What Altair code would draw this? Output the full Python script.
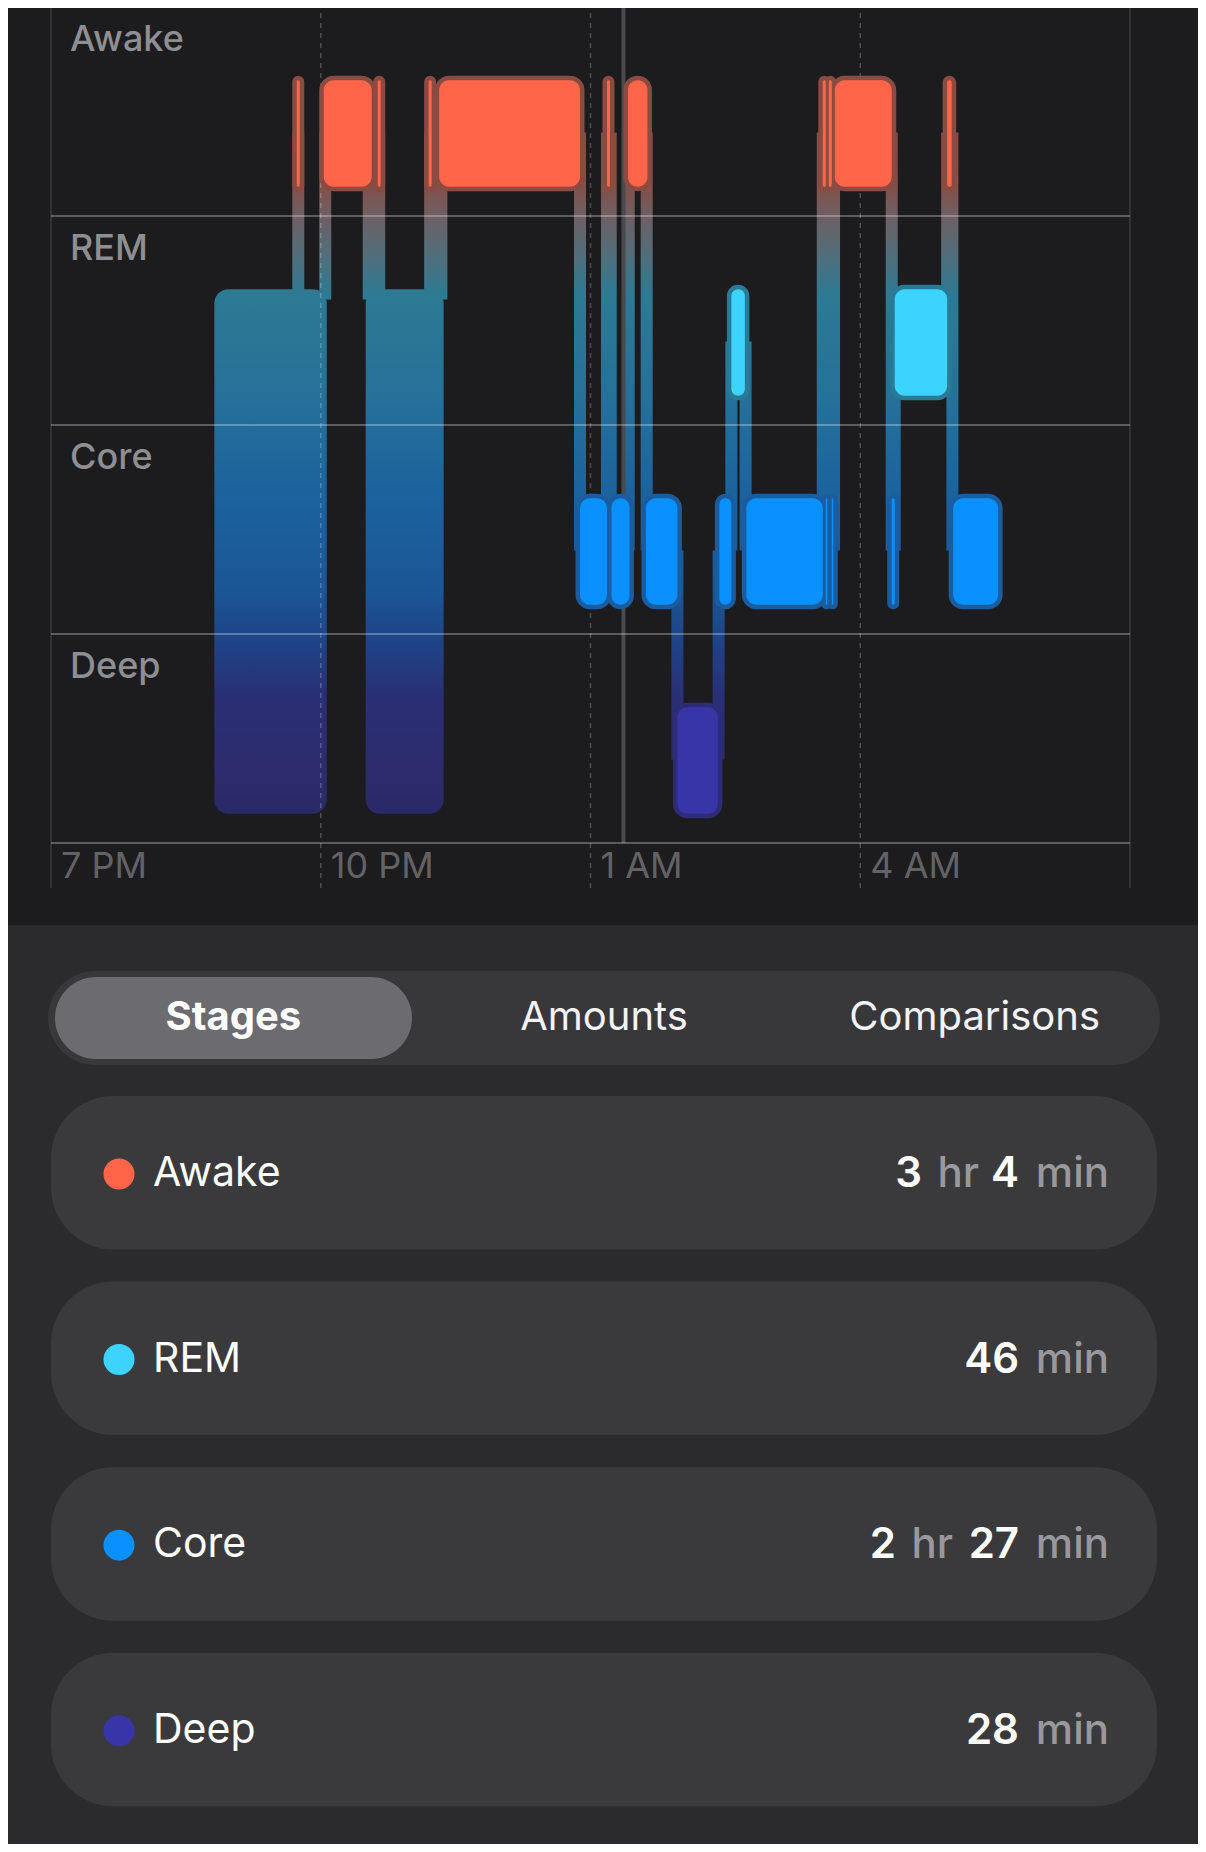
import altair as alt
import pandas as pd

# ---------------- data ----------------
seg_start = ["20:49", "21:44", "22:02", "22:30", "22:38", "23:12", "23:19", "00:53", "01:11",
             "01:14", "01:25", "01:37", "01:58", "02:26", "02:34", "02:44", "03:35", "03:37",
             "03:39", "03:41", "03:43", "04:21", "04:23", "04:58", "05:02"]
seg_end = ["22:04", "21:46", "22:34", "23:22", "22:40", "23:14", "00:53", "01:11", "01:13",
           "01:26", "01:38", "01:58", "02:25", "02:34", "02:43", "03:35", "03:37", "03:38",
           "03:41", "03:42", "04:21", "04:23", "04:58", "05:01", "05:32"]
seg_stage = ["Asleep", "Awake", "Awake", "Asleep", "Awake", "Awake", "Awake", "Core", "Awake",
             "Core", "Awake", "Core", "Deep", "Core", "REM", "Core", "Awake", "Core",
             "Awake", "Core", "Awake", "Core", "REM", "Awake", "Core"]

stage_names = ["Awake", "REM", "Core", "Deep"]
stage_colors = ["#ff6548", "#3dd3ff", "#0a91ff", "#3835a8"]
halo_colors = ["#8a4b42", "#2a7a95", "#1b5c9e", "#2f2c76"]

tick_minutes = [0, 180, 360, 540]
tick_labels = ["7 PM", "10 PM", "1 AM", "4 AM"]
now_time = "01:22"

summary_stage = ["Awake", "REM", "Core", "Deep"]
summary_hours = [3, 0, 2, 0]
summary_minutes = [4, 46, 27, 28]
tabs = ["Stages", "Amounts", "Comparisons"]

# ---------------- styling / layout ----------------
W, H = 1190, 1836
X_RANGE = [43, 1122]
Y_RANGE = [835, -1]
FONT = "Inter"
LEVEL = {"Awake": 3, "REM": 2, "Core": 1, "Deep": 0}
ANCHOR = {"Awake": 3.4, "REM": 2.4, "Core": 1.4, "Deep": 0.4, "Asleep": 2.6}
GRAD = [(3.6, "#8c4a40"), (3.15, "#834f47"), (3.0, "#6e5f63"), (2.8, "#4f6f7c"),
        (2.62, "#2c7a93"), (2.1, "#24709a"), (1.65, "#1b629e"), (1.2, "#1b5596"),
        (0.95, "#1f4287"), (0.7, "#2a2f75"), (0.4, "#2d2b6e"), (0.1, "#2a2966")]


def to_min(s):
    h, m = map(int, s.split(":"))
    t = h * 60 + m - 19 * 60
    return t + 1440 if t < 0 else t


def hex2rgb(h):
    return [int(h[i:i + 2], 16) for i in (1, 3, 5)]


def rgb2hex(c):
    return "#%02x%02x%02x" % tuple(int(round(v)) for v in c)


def grad_color(y):
    if y >= GRAD[0][0]:
        return GRAD[0][1]
    for (y0, c0), (y1, c1) in zip(GRAD, GRAD[1:]):
        if y0 >= y >= y1:
            f = (y0 - y) / (y0 - y1)
            a, b = hex2rgb(c0), hex2rgb(c1)
            return rgb2hex([a[i] + (b[i] - a[i]) * f for i in range(3)])
    return GRAD[-1][1]


def gradient(hi, lo):
    stops = [alt.GradientStop(color=grad_color(hi), offset=0)]
    for y, c in GRAD:
        if lo < y < hi:
            stops.append(alt.GradientStop(color=c, offset=(hi - y) / (hi - lo)))
    stops.append(alt.GradientStop(color=grad_color(lo), offset=1))
    return alt.Gradient(gradient="linear", stops=stops, x1=0, x2=0, y1=0, y2=1)


def X(field):
    return alt.X(f"{field}:Q", scale=alt.Scale(domain=[0, 720], range=X_RANGE, nice=False, zero=False), axis=None)


def Y(field):
    return alt.Y(f"{field}:Q", scale=alt.Scale(domain=[0, 4], range=Y_RANGE, nice=False, zero=False), axis=None)


# ---------------- tables ----------------
segs = []
for s, e, st in zip(seg_start, seg_end, seg_stage):
    if st == "Asleep":
        bottom, top = 0.14, 2.65
    else:
        bottom, top = LEVEL[st] + 0.14, LEVEL[st] + 0.65
    segs.append({"start": to_min(s), "end": to_min(e), "stage": st, "bottom": bottom, "top": top})
seg_df = pd.DataFrame(segs)
asleep_df = seg_df[seg_df.stage == "Asleep"]
block_df = seg_df[seg_df.stage != "Asleep"]

pipes = []
prev = segs[0]
for s in segs[1:]:
    if prev["stage"] == "Asleep" and s["start"] >= prev["start"] and s["end"] <= prev["end"]:
        x = (s["start"] + s["end"]) / 2
        a, b = ANCHOR[prev["stage"]], ANCHOR[s["stage"]]
        pipes.append({"x": x, "lo": min(a, b), "hi": max(a, b)})
        continue
    if prev["stage"] != s["stage"]:
        x = (prev["end"] + s["start"]) / 2
        a, b = ANCHOR[prev["stage"]], ANCHOR[s["stage"]]
        pipes.append({"x": x, "lo": min(a, b), "hi": max(a, b)})
    prev = s
pipe_df = pd.DataFrame(pipes)

layers = []

# bottom panel background
layers.append(alt.Chart(pd.DataFrame({"a": [0]})).mark_rect(color="#2b2b2d").encode(
    x=alt.value(0), x2=alt.value(W), y=alt.value(917), y2=alt.value(H)))

# solid frame lines at 7 PM and 7 AM
layers.append(alt.Chart(pd.DataFrame({"t": [0, 720], "y0": [-0.215] * 2, "y1": [4.03] * 2}))
              .mark_rule(color="#3a3a3c", strokeWidth=1.5)
              .encode(x=X("t"), y=Y("y0"), y2="y1:Q"))

# tall "asleep" bars
layers.append(alt.Chart(asleep_df).mark_rect(cornerRadius=14, color=gradient(2.65, 0.14)).encode(
    x=X("start"), x2="end:Q", y=Y("top"), y2="bottom:Q"))

# connecting pipes, one layer per level pair
for (lo, hi), grp in pipe_df.groupby(["lo", "hi"]):
    layers.append(alt.Chart(grp).mark_rect(color=gradient(hi, lo), xOffset=-6, x2Offset=6).encode(
        x=X("x"), x2="x:Q", y=Y("hi"), y2="lo:Q"))

# current time marker
layers.append(alt.Chart(pd.DataFrame({"t": [to_min(now_time)], "y0": [0.0], "y1": [4.03]}))
              .mark_rule(color="#4a4a4e", strokeWidth=4)
              .encode(x=X("t"), y=Y("y0"), y2="y1:Q"))

# dashed hour lines
layers.append(alt.Chart(pd.DataFrame({"t": tick_minutes[1:], "y0": [-0.215] * 3, "y1": [4.03] * 3}))
              .mark_rule(color="#ffffff", opacity=0.22, strokeWidth=1.5, strokeDash=[5, 5])
              .encode(x=X("t"), y=Y("y0"), y2="y1:Q"))

# horizontal stage grid lines
layers.append(alt.Chart(pd.DataFrame({"y": [0, 1, 2, 3], "t0": [0] * 4, "t1": [720] * 4}))
              .mark_rule(color="#ffffff", opacity=0.38, strokeWidth=1.4)
              .encode(y=Y("y"), x=X("t0"), x2="t1:Q"))

# halos
layers.append(alt.Chart(block_df).mark_rect(cornerRadius=10, strokeWidth=9, strokeJoin="round").encode(
    x=X("start"), x2="end:Q", y=Y("top"), y2="bottom:Q",
    fill=alt.Fill("stage:N", scale=alt.Scale(domain=stage_names, range=halo_colors), legend=None),
    stroke=alt.Stroke("stage:N", scale=alt.Scale(domain=stage_names, range=halo_colors), legend=None)))

# stage blocks
layers.append(alt.Chart(block_df).mark_rect(cornerRadius=10).encode(
    x=X("start"), x2="end:Q", y=Y("top"), y2="bottom:Q",
    fill=alt.Fill("stage:N", scale=alt.Scale(domain=stage_names, range=stage_colors), legend=None)))

# stage labels inside bands
lab_df = pd.DataFrame({"stage": stage_names, "y": [LEVEL[s] + 0.842 for s in stage_names], "t": [0] * 4})
layers.append(alt.Chart(lab_df).mark_text(align="left", baseline="middle", dx=19, font=FONT,
                                          fontSize=36, fontWeight=500, color="#8e8e93").encode(
    x=X("t"), y=Y("y"), text="stage:N"))

# time labels
tick_df = pd.DataFrame({"t": tick_minutes, "label": tick_labels, "y": [-0.115] * 4})
layers.append(alt.Chart(tick_df).mark_text(align="left", baseline="middle", dx=10, font=FONT,
                                           fontSize=36, color="#636366").encode(
    x=X("t"), y=Y("y"), text="label:N"))

# ---------------- lower panel ----------------
layers.append(alt.Chart(pd.DataFrame({"a": [0]})).mark_rect(color="#38383b", cornerRadius=47).encode(
    x=alt.value(40), x2=alt.value(1152), y=alt.value(963), y2=alt.value(1057)))
layers.append(alt.Chart(pd.DataFrame({"a": [0]})).mark_rect(color="#6c6c70", cornerRadius=41).encode(
    x=alt.value(47), x2=alt.value(404), y=alt.value(969), y2=alt.value(1051)))

tab_df = pd.DataFrame({"tab": tabs, "sel": [True, False, False]})
tab_x = alt.X("tab:N", scale=alt.Scale(type="point", domain=tabs, range=[40, 1152], padding=0.5), axis=None)
layers.append(alt.Chart(tab_df[tab_df.sel]).mark_text(font=FONT, fontSize=40, fontWeight="bold",
                                                      color="#ffffff", baseline="middle").encode(
    x=tab_x, y=alt.value(1010), text="tab:N"))
layers.append(alt.Chart(tab_df[~tab_df.sel]).mark_text(font=FONT, fontSize=40, color="#f2f2f7",
                                                       baseline="middle").encode(
    x=tab_x, y=alt.value(1010), text="tab:N"))

rows = pd.DataFrame({"stage": summary_stage, "row": list(range(4))})
rows["row_end"] = rows.row + 0.827
rows["mid"] = rows.row + 0.42
row_scale = alt.Scale(domain=[0, 4], range=[1088, 1830.4], nice=False, zero=False)

layers.append(alt.Chart(rows).mark_rect(color="#3a3a3c", cornerRadius=62).encode(
    x=alt.value(43), x2=alt.value(1149),
    y=alt.Y("row:Q", scale=row_scale, axis=None), y2="row_end:Q"))
layers.append(alt.Chart(rows).mark_circle(size=962, opacity=1).encode(
    x=alt.value(111), y=alt.Y("mid:Q", scale=row_scale, axis=None),
    color=alt.Color("stage:N", scale=alt.Scale(domain=stage_names, range=stage_colors), legend=None)))
layers.append(alt.Chart(rows).mark_text(align="left", baseline="middle", font=FONT, fontSize=41,
                                        color="#ffffff").encode(
    x=alt.value(145), y=alt.Y("mid:Q", scale=row_scale, axis=None), text="stage:N"))

# duration texts, built right-to-left
WIDTH = {"min": 76, "hr": 43}
pieces = []
for i, (h, m) in enumerate(zip(summary_hours, summary_minutes)):
    parts = ([(str(h), "num"), ("hr", "unit")] if h > 0 else []) + [(str(m), "num"), ("min", "unit")]
    xr = 1101
    for text, kind in reversed(parts):
        pieces.append({"mid": i + 0.42, "text": text, "kind": kind, "xr": xr})
        xr -= (WIDTH[text] if kind == "unit" else 26 * len(text)) + 14
piece_df = pd.DataFrame(pieces)
layers.append(alt.Chart(piece_df[piece_df.kind == "num"]).mark_text(
    align="right", baseline="middle", font=FONT, fontSize=42, fontWeight=600, color="#ffffff").encode(
    x=alt.X("xr:Q", scale=None, axis=None), y=alt.Y("mid:Q", scale=row_scale, axis=None), text="text:N"))
layers.append(alt.Chart(piece_df[piece_df.kind == "unit"]).mark_text(
    align="right", baseline="middle", font=FONT, fontSize=42, fontWeight=500, color="#98989e").encode(
    x=alt.X("xr:Q", scale=None, axis=None), y=alt.Y("mid:Q", scale=row_scale, axis=None), text="text:N"))

chart = (
    alt.layer(*layers)
    .properties(width=W, height=H, autosize=alt.AutoSizeParams(type="none"), padding=0,
                background="#1c1c1e")
    .resolve_scale(x="independent", y="independent", fill="independent",
                   stroke="independent", color="independent")
    .configure_view(stroke=None)
)

chart.save("out.html", embed_options={"renderer": "svg", "actions": False})
